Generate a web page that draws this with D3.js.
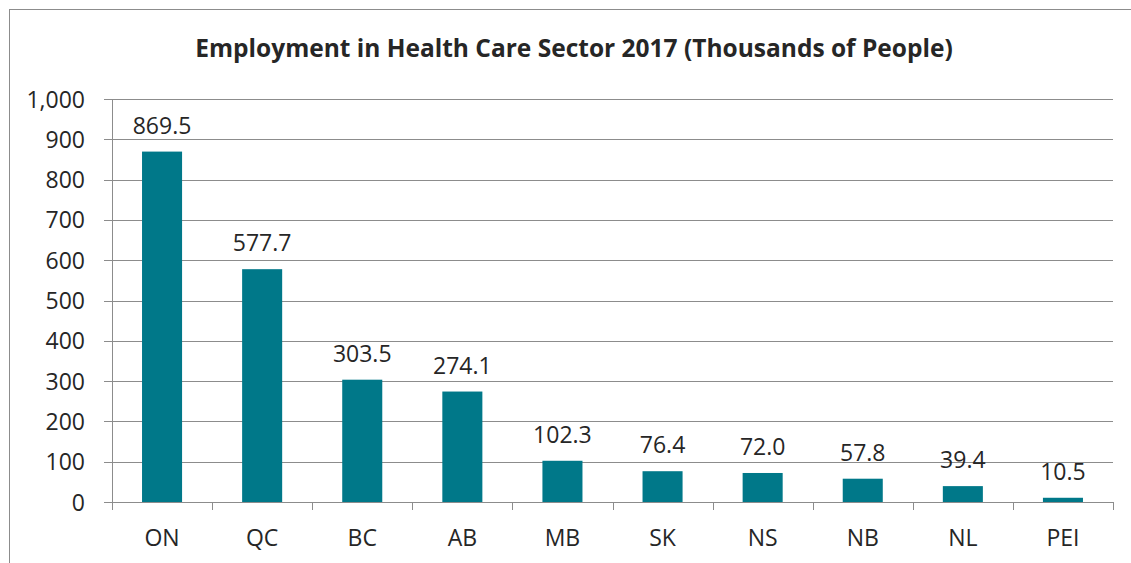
<!DOCTYPE html>
<html>
<head>
<meta charset="utf-8">
<script src="https://cdn.jsdelivr.net/npm/d3@7"></script>
<style>
  body { margin: 0; background: #fff; }
  svg text { font-family: "Open Sans", sans-serif; fill: #262626; }
</style>
</head>
<body>
<div id="chart"></div>
<script>
// Chart data
const provinces = ["ON", "QC", "BC", "AB", "MB", "SK", "NS", "NB", "NL", "PEI"];
const employment = [869.5, 577.7, 303.5, 274.1, 102.3, 76.4, 72.0, 57.8, 39.4, 10.5];
const yTicks = [0, 100, 200, 300, 400, 500, 600, 700, 800, 900, 1000];
const title = "Employment in Health Care Sector 2017 (Thousands of People)";

const data = provinces.map((p, i) => ({ province: p, value: employment[i] }));

const width = 1131;
const height = 563;
const margin = { top: 99, right: 18, bottom: 61, left: 112 };
const innerW = width - margin.left - margin.right;
const innerH = height - margin.top - margin.bottom;

const svg = d3
  .select("#chart")
  .append("svg")
  .attr("width", width)
  .attr("height", height);

// Outer frame (cropped on right and bottom)
svg
  .append("rect")
  .attr("x", 9.5)
  .attr("y", 9.5)
  .attr("width", width + 20)
  .attr("height", height + 20)
  .attr("fill", "none")
  .attr("stroke", "#8c8c8c");

// Title
svg
  .append("text")
  .attr("x", 574)
  .attr("y", 57)
  .attr("text-anchor", "middle")
  .style("font-size", "24.5px")
  .style("font-weight", "bold")
  .text(title);

const g = svg
  .append("g")
  .attr("transform", "translate(" + margin.left + "," + margin.top + ")");

// Scales
const x = d3
  .scaleBand()
  .domain(provinces)
  .range([0, innerW])
  .paddingInner(0.6)
  .paddingOuter(0.3);

const y = d3.scaleLinear().domain([0, 1000]).range([innerH, 0]);

// Gridlines
g.append("g")
  .attr("class", "grid")
  .selectAll("line")
  .data(yTicks)
  .join("line")
  .attr("x1", -8)
  .attr("x2", innerW)
  .attr("y1", (d) => Math.round(y(d)) + 0.5)
  .attr("y2", (d) => Math.round(y(d)) + 0.5)
  .attr("stroke", "#8c8c8c");

// Y axis
const yAxis = d3
  .axisLeft(y)
  .tickValues(yTicks)
  .tickSize(0)
  .tickPadding(27)
  .tickFormat(d3.format(","));

g.append("g")
  .attr("class", "y-axis")
  .call(yAxis)
  .call((s) => s.select(".domain").remove())
  .selectAll("text")
  .style("font-size", "23px")
  .attr("dy", "0.35em");

g.append("line")
  .attr("x1", 0.5)
  .attr("x2", 0.5)
  .attr("y1", 0)
  .attr("y2", innerH)
  .attr("stroke", "#8c8c8c");

// X axis with ticks at band boundaries
g.append("line")
  .attr("x1", 0)
  .attr("x2", innerW)
  .attr("y1", Math.round(innerH) + 0.5)
  .attr("y2", Math.round(innerH) + 0.5)
  .attr("stroke", "#8c8c8c");

const step = x.step();
g.append("g")
  .selectAll("line")
  .data(d3.range(provinces.length + 1))
  .join("line")
  .attr("x1", (i) => Math.round(i * step) + 0.5)
  .attr("x2", (i) => Math.round(i * step) + 0.5)
  .attr("y1", innerH)
  .attr("y2", innerH + 8)
  .attr("stroke", "#8c8c8c");

g.append("g")
  .selectAll("text")
  .data(provinces)
  .join("text")
  .attr("x", (d) => x(d) + x.bandwidth() / 2)
  .attr("y", innerH + 44)
  .attr("text-anchor", "middle")
  .style("font-size", "23px")
  .text((d) => d);

// Bars
g.selectAll(".bar")
  .data(data)
  .join("rect")
  .attr("class", "bar")
  .attr("x", (d) => x(d.province))
  .attr("width", x.bandwidth())
  .attr("y", (d) => y(d.value))
  .attr("height", (d) => innerH - y(d.value))
  .attr("fill", "#007889");

// Value labels
g.selectAll(".label")
  .data(data)
  .join("text")
  .attr("class", "label")
  .attr("x", (d) => x(d.province) + x.bandwidth() / 2)
  .attr("y", (d) => y(d.value) - 18)
  .attr("text-anchor", "middle")
  .style("font-size", "23px")
  .text((d) => d.value.toFixed(1));
</script>
</body>
</html>
